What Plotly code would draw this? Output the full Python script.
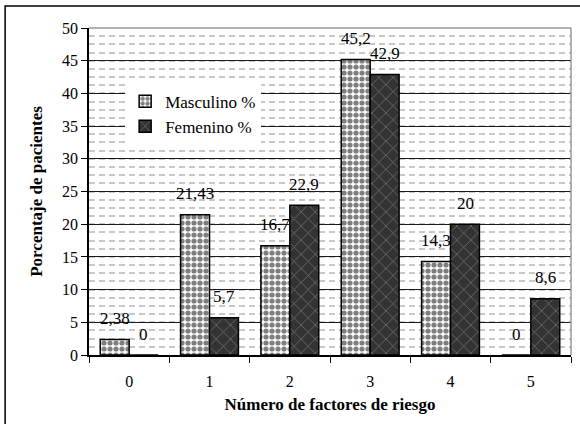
import plotly.graph_objects as go

categorias = ["0", "1", "2", "3", "4", "5"]
masculino = [2.38, 21.43, 16.7, 45.2, 14.3, 0]
femenino = [0, 5.7, 22.9, 42.9, 20, 8.6]
nombres = ["Masculino %", "Femenino %"]
y_ticks = [0, 5, 10, 15, 20, 25, 30, 35, 40, 45, 50]

FONT = "Liberation Serif, Times New Roman, DejaVu Serif, serif"

def fmt(v):
    return f"{v:g}".replace(".", ",")

fig = go.Figure()
fig.add_trace(go.Bar(
    x=categorias, y=masculino, name=nombres[0],
    marker=dict(color="white", line=dict(color="black", width=1.5),
                pattern=dict(shape=".", fgcolor="#000000", bgcolor="white",
                             size=6, solidity=0.6, fillmode="overlay")),
))
fig.add_trace(go.Bar(
    x=categorias, y=femenino, name=nombres[1],
    marker=dict(color="#333333", line=dict(color="black", width=1.5),
                pattern=dict(shape="x", fgcolor="#d0d0d0", bgcolor="#333333",
                             size=10, solidity=0.12, fillmode="overlay")),
))

for serie, shift in ((masculino, -14.5), (femenino, 14.5)):
    for c, v in zip(categorias, serie):
        fig.add_annotation(x=c, y=v, text=fmt(v), showarrow=False,
                           xshift=shift, yshift=21, yanchor="middle",
                           font=dict(family=FONT, size=17, color="black"))

# plot-area top and right border (gray)
fig.add_shape(type="line", xref="paper", yref="paper", x0=0, x1=1, y0=1, y1=1,
              line=dict(color="#999999", width=1.5))
fig.add_shape(type="line", xref="paper", yref="paper", x0=1, x1=1, y0=0, y1=1,
              line=dict(color="#999999", width=1.5))
# outer chart frame
fig.add_shape(type="rect", xref="paper", yref="paper", x0=-0.174, x1=1.05,
              y0=-0.3, y1=1.067, line=dict(color="black", width=1.5), layer="below")

fig.update_layout(
    width=580, height=424,
    margin=dict(l=89, r=9, t=28, b=69, autoexpand=False),
    paper_bgcolor="white", plot_bgcolor="white",
    barmode="group", bargap=0.28, bargroupgap=0,
    font=dict(family=FONT, size=16, color="black"),
    legend=dict(x=0.075, y=0.83, xanchor="left", yanchor="top",
                bgcolor="white", font=dict(family=FONT, size=17),
                itemwidth=30, tracegroupgap=0),
    showlegend=True,
)
fig.update_xaxes(
    type="category", showline=True, linecolor="black", linewidth=1.5,
    ticks="outside", tickson="boundaries", ticklen=6, tickcolor="black",
    ticklabelstandoff=11, showgrid=False, automargin=False,
    title=dict(text="<b>Número de factores de riesgo</b>", standoff=9,
               font=dict(family=FONT, size=17)),
    tickfont=dict(family=FONT, size=16),
)
fig.update_yaxes(
    range=[0, 50], tickvals=y_ticks, showline=True, linecolor="black", linewidth=1.5,
    ticks="outside", ticklen=6, tickcolor="black", automargin=False,
    showgrid=True, gridcolor="#1a1a1a", gridwidth=1,
    zeroline=False,
    minor=dict(dtick=1.25, tick0=0, showgrid=True, gridcolor="#c8c8c8",
               gridwidth=2, griddash="6px,4px", ticks=""),
    title=dict(text="<b>Porcentaje de pacientes</b>", standoff=15,
               font=dict(family=FONT, size=17)),
    tickfont=dict(family=FONT, size=16),
)

fig.write_html("out.html", config={"displayModeBar": False},
               post_script="document.body.style.margin='0px';document.body.style.padding='0px';")
